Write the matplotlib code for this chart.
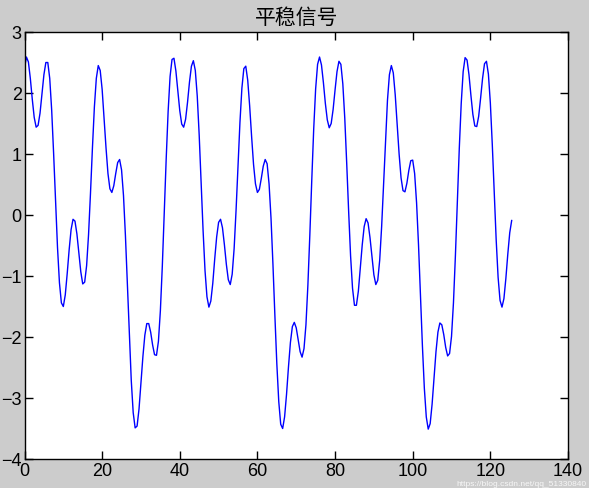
import numpy as np
import matplotlib

matplotlib.use("Agg")
import matplotlib.pyplot as plt

TITLE = "平稳信号"
STEP = 0.5  # sample spacing along x

# signal values, one every 0.5 from x = 0 to 125.5
SIGNAL = [
    2.41, 2.59, 2.51, 2.24, 1.90, 1.60, 1.44, 1.47, 1.67, 1.98, 2.30, 2.50,
    2.50, 2.24, 1.72, 1.01, 0.22, -0.53, -1.11, -1.44, -1.50, -1.31, -0.96, -0.57,
    -0.24, -0.07, -0.10, -0.31, -0.62, -0.93, -1.13, -1.10, -0.83, -0.32, 0.36, 1.10,
    1.77, 2.24, 2.45, 2.37, 2.06, 1.59, 1.10, 0.68, 0.43, 0.37, 0.48, 0.68,
    0.86, 0.91, 0.74, 0.32, -0.34, -1.14, -1.98, -2.71, -3.24, -3.49, -3.46, -3.18,
    -2.76, -2.32, -1.97, -1.78, -1.78, -1.92, -2.13, -2.29, -2.30, -2.07, -1.57, -0.84,
    0.03, 0.92, 1.70, 2.27, 2.55, 2.57, 2.36, 2.03, 1.71, 1.49, 1.44, 1.57,
    1.85, 2.18, 2.44, 2.53, 2.37, 1.95, 1.31, 0.53, -0.25, -0.91, -1.34, -1.51,
    -1.41, -1.12, -0.72, -0.36, -0.12, -0.07, -0.21, -0.49, -0.81, -1.06, -1.14, -0.97,
    -0.55, 0.08, 0.81, 1.52, 2.08, 2.40, 2.44, 2.21, 1.79, 1.29, 0.83, 0.51,
    0.37, 0.42, 0.60, 0.80, 0.91, 0.84, 0.51, -0.05, -0.81, -1.65, -2.44, -3.06,
    -3.43, -3.50, -3.31, -2.94, -2.49, -2.09, -1.83, -1.76, -1.85, -2.05, -2.24, -2.33,
    -2.19, -1.80, -1.15, -0.33, 0.57, 1.41, 2.07, 2.47, 2.59, 2.46, 2.17, 1.83,
    1.56, 1.43, 1.50, 1.73, 2.05, 2.35, 2.52, 2.47, 2.15, 1.59, 0.85, 0.06,
    -0.67, -1.20, -1.48, -1.48, -1.25, -0.88, -0.49, -0.19, -0.06, -0.13, -0.37, -0.68,
    -0.98, -1.14, -1.07, -0.74, -0.19, 0.51, 1.25, 1.88, 2.30, 2.45, 2.33, 1.97,
    1.49, 1.00, 0.61, 0.40, 0.38, 0.52, 0.73, 0.89, 0.90, 0.68, 0.20, -0.49,
    -1.31, -2.14, -2.84, -3.31, -3.51, -3.42, -3.10, -2.67, -2.24, -1.92, -1.77, -1.80,
    -1.96, -2.17, -2.31, -2.27, -1.99, -1.44, -0.67, 0.21, 1.09, 1.83, 2.35, 2.58,
    2.54, 2.30, 1.96, 1.65, 1.46, 1.45, 1.62, 1.92, 2.24, 2.48, 2.52, 2.31,
    1.84, 1.16, 0.37, -0.40, -1.02, -1.40, -1.51, -1.37, -1.04, -0.64, -0.29, -0.09,
]

XTICKS = [0, 20, 40, 60, 80, 100, 120, 140]
YTICKS = [-4, -3, -2, -1, 0, 1, 2, 3]

WATERMARK = "https://blog.csdn.net/qq_51330840"

plt.rcParams["font.family"] = ["Liberation Sans", "DejaVu Sans"]

fig = plt.figure(figsize=(5.89, 4.88), dpi=100, facecolor="#cccccc")
ax = fig.add_axes([0.0416, 0.0594, 0.9227, 0.875])

n = np.arange(len(SIGNAL)) * STEP
ax.plot(n, SIGNAL, color="#0000ff", linewidth=1.0)

ax.set_xlim(XTICKS[0], XTICKS[-1])
ax.set_ylim(YTICKS[0], YTICKS[-1])
ax.set_xticks(XTICKS)
ax.set_yticks(YTICKS)
ax.tick_params(direction="in", top=True, right=True, length=6, width=1,
               labelsize=13, colors="black")
ax.tick_params(axis="y", pad=2)
ax.tick_params(axis="x", pad=3)
for side in ax.spines.values():
    side.set_linewidth(1.0)

ax.set_title(TITLE, fontsize=15, pad=6,
             family=["Noto Sans CJK SC", "DejaVu Sans"])

# faint blog watermark tucked below the tick labels at the bottom right
fig.text(0.995, 0.001, WATERMARK, ha="right", va="bottom", fontsize=6,
         color="white", alpha=0.85)

fig.savefig("out.png", dpi=100, facecolor=fig.get_facecolor())
